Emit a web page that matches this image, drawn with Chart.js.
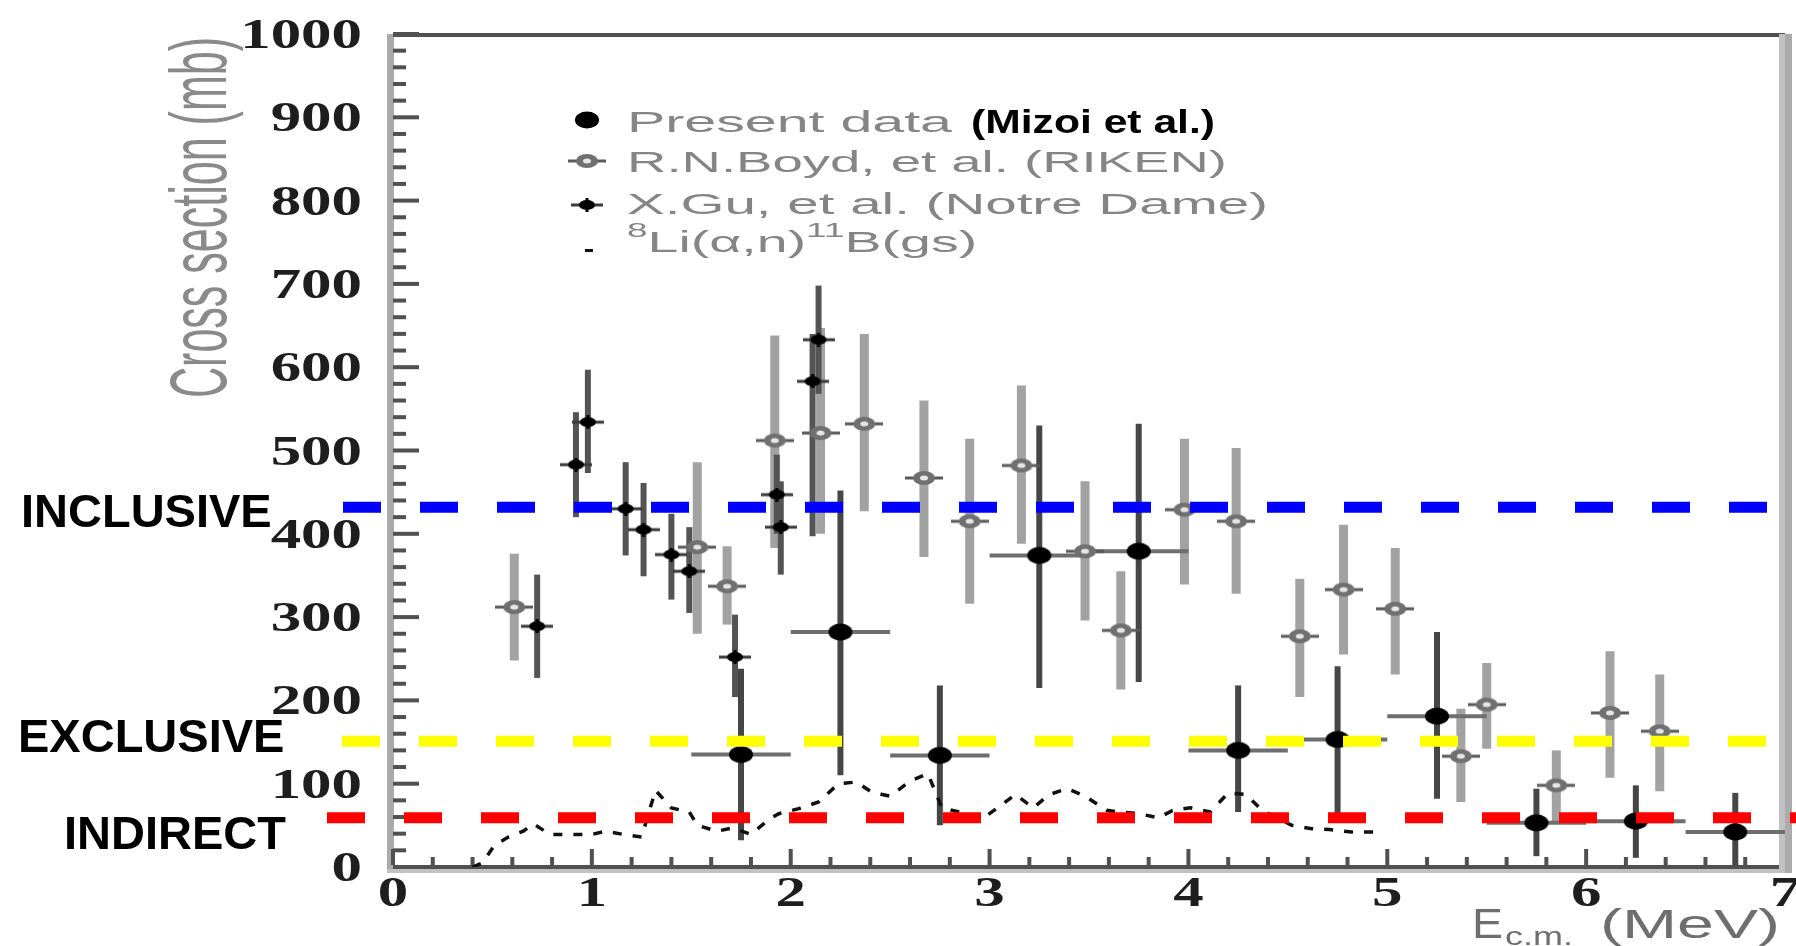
<!DOCTYPE html>
<html>
<head>
<meta charset="utf-8">
<title>8Li(a,n) cross section</title>
<script src="https://cdn.jsdelivr.net/npm/chart.js@4.4.1/dist/chart.umd.min.js"></script>
<style>
  html, body { margin: 0; padding: 0; background: #fff; }
  #wrap { width: 1796px; height: 946px; position: relative; }
</style>
</head>
<body>
<div id="wrap"><canvas id="xsec"></canvas></div>
<script>
// ----- values (E in MeV, sigma in mb) -----
const presE     = [1.75, 2.25, 2.75, 3.25, 3.75, 4.25, 4.75, 5.25, 5.75, 6.25, 6.75];
const presSigma = [135, 282, 134, 374, 379, 140, 153, 181, 53, 55, 42];
const presLo    = [32, 110, 50, 215, 222, 66, 61, 82, 13, 11, 2];
const presHi    = [238, 452, 218, 530, 532, 218, 241, 282, 94, 98, 89];
const presELo   = [1.5, 2.0, 2.5, 3.0, 3.5, 4.0, 4.5, 5.0, 5.5, 6.0, 6.5];
const presEHi   = [2.0, 2.5, 3.0, 3.5, 4.0, 4.5, 5.0, 5.5, 6.0, 6.5, 7.0];

const rikenE     = [0.61, 1.53, 1.68, 1.92, 2.15, 2.37, 2.67, 2.90, 3.16, 3.48, 3.66, 3.98, 4.24, 4.56, 4.78, 5.04, 5.37, 5.50, 5.85, 6.12, 6.37];
const rikenSigma = [312, 384, 337, 512, 521, 532, 467, 415, 482, 379, 284, 429, 415, 277, 333, 310, 133, 195, 98, 185, 163];
const rikenLo    = [248, 280, 291, 383, 400, 427, 372, 316, 388, 296, 213, 339, 328, 204, 255, 231, 78, 142, 53, 107, 91];
const rikenHi    = [376, 486, 385, 638, 647, 640, 560, 514, 578, 463, 355, 514, 503, 346, 411, 383, 190, 245, 140, 259, 231];

const ndE     = [0.725, 0.92, 0.98, 1.17, 1.26, 1.40, 1.49, 1.72, 1.93, 1.95, 2.11, 2.14];
const ndSigma = [289, 483, 534, 430, 405, 375, 355, 252, 447, 408, 583, 633];
const ndLo    = [227, 420, 473, 374, 349, 321, 305, 204, 400, 351, 397, 568];
const ndHi    = [351, 546, 597, 486, 461, 424, 408, 303, 495, 463, 640, 698];

const liE     = [0.40, 0.45, 0.51, 0.58, 0.655, 0.705, 0.79, 0.88, 1.0, 1.07,
                 1.16, 1.25, 1.32, 1.40, 1.49, 1.53, 1.63, 1.71, 1.80, 1.89,
                 1.94, 2.04, 2.14, 2.24, 2.33, 2.40, 2.46, 2.50, 2.60, 2.69,
                 2.76, 2.97, 3.04, 3.13, 3.22, 3.30, 3.39, 3.48, 3.59, 3.65,
                 3.75, 3.85, 3.92, 4.01, 4.11, 4.20, 4.29, 4.37, 4.52, 4.62,
                 4.71, 4.82, 4.93];
const liSigma = [0, 5, 26, 36, 43, 52, 39, 39, 39, 43,
                 39, 36, 92, 71, 66, 50, 43, 47, 39, 57,
                 64, 70, 78, 100, 102, 91, 87, 85, 103, 112,
                 71, 59, 71, 87, 71, 87, 94, 85, 68, 66,
                 64, 59, 68, 71, 66, 89, 87, 68, 50, 46,
                 45, 42, 42];

const xTickVals = [0, 1, 2, 3, 4, 5, 6, 7];
const yTickVals = [0, 100, 200, 300, 400, 500, 600, 700, 800, 900, 1000];

const levelNames  = ['INCLUSIVE', 'EXCLUSIVE', 'INDIRECT'];
const levelValues = [432, 151, 59];

// ----- marker images -----
function markerCanvas(w, h, draw) {
  const c = document.createElement('canvas');
  c.width = w; c.height = h;
  draw(c.getContext('2d'), w, h);
  return c;
}
const presMarker = markerCanvas(28, 20, (g, w, h) => {
  g.fillStyle = '#000';
  g.beginPath(); g.ellipse(w / 2, h / 2, 12, 8.5, 0, 0, 2 * Math.PI); g.fill();
});
const ndMarker = markerCanvas(32, 14, (g, w, h) => {
  g.fillStyle = '#3a3a3a'; g.fillRect(0, h / 2 - 1.5, w, 3);
  g.fillStyle = '#000';
  g.beginPath(); g.ellipse(w / 2, h / 2, 8, 5, 0, 0, 2 * Math.PI); g.fill();
  g.fillRect(w / 2 - 1.5, 0, 3, h);
});
const rikenMarker = markerCanvas(38, 16, (g, w, h) => {
  g.fillStyle = '#5a5a5a'; g.fillRect(0, h / 2 - 1.5, w, 3);
  g.fillStyle = '#707070';
  g.beginPath(); g.ellipse(w / 2, h / 2, 11, 7, 0, 0, 2 * Math.PI); g.fill();
  g.fillStyle = '#e6e6e6';
  g.beginPath(); g.ellipse(w / 2, h / 2, 4, 2.5, 0, 0, 2 * Math.PI); g.fill();
});

function pts(xs, ys) { return xs.map((v, i) => ({ x: v, y: ys[i] })); }

// ----- text helpers (the scanned plot is stretched sideways) -----
function fitText(ctx, text, x, y, width, font, color) {
  ctx.save();
  ctx.font = font;
  const w = ctx.measureText(text).width;
  ctx.translate(x, y);
  ctx.scale(width / w, 1);
  ctx.fillStyle = color;
  ctx.textAlign = 'left';
  ctx.textBaseline = 'alphabetic';
  ctx.fillText(text, 0, 0);
  ctx.restore();
}
function wideText(ctx, text, x, y, sx, align, font, color) {
  ctx.save();
  ctx.font = font;
  const w = ctx.measureText(text).width * sx;
  let left = x;
  if (align === 'right') left = x - w;
  if (align === 'center') left = x - w / 2;
  ctx.translate(left, y);
  ctx.scale(sx, 1);
  ctx.fillStyle = color;
  ctx.textAlign = 'left';
  ctx.textBaseline = 'alphabetic';
  ctx.fillText(text, 0, 0);
  ctx.restore();
  return w;
}

// ----- frame, ticks and error bars (under the markers) -----
function drawFrame(chart) {
  const { ctx, chartArea: a, scales: { x, y } } = chart;
  ctx.fillStyle = '#ababab';
  ctx.fillRect(a.left - 6, a.top, 7, a.bottom - a.top + 6);
  ctx.fillStyle = '#505050';
  ctx.fillRect(a.left, a.top - 1, a.right - a.left, 4);
  ctx.fillRect(a.left, a.bottom - 2, a.right - a.left, 4);
  ctx.fillStyle = '#c2c2c2';
  ctx.fillRect(a.left - 6, a.bottom + 2, a.right - a.left + 13, 4);

  ctx.fillStyle = '#505050';
  for (let v = 0; v <= 1000; v += 20) {
    const py = y.getPixelForValue(v);
    ctx.fillRect(a.left, py - 2, v % 100 === 0 ? 26 : 13, 4);
  }
  for (let i = 0; i <= 35; i++) {
    const px = x.getPixelForValue(i * 0.2);
    const len = i % 5 === 0 ? 16 : 8;
    ctx.fillRect(px - 2, a.bottom - 2 - len, 4, len);
  }
  ctx.fillStyle = '#c2c2c2';
  ctx.fillRect(a.right - 6, a.top, 6, a.bottom - a.top + 6);
  ctx.fillStyle = '#aaaaaa';
  ctx.fillRect(a.right, a.top, 7, a.bottom - a.top + 6);
}

function vbars(ctx, x, y, es, lo, hi, color, width) {
  ctx.strokeStyle = color;
  ctx.lineWidth = width;
  ctx.lineCap = 'butt';
  es.forEach((e, i) => {
    const px = x.getPixelForValue(e);
    ctx.beginPath();
    ctx.moveTo(px, y.getPixelForValue(lo[i]));
    ctx.lineTo(px, y.getPixelForValue(hi[i]));
    ctx.stroke();
  });
}
function hbars(ctx, x, y, eLo, eHi, sig, color, width) {
  ctx.strokeStyle = color;
  ctx.lineWidth = width;
  sig.forEach((s, i) => {
    const py = y.getPixelForValue(s);
    ctx.beginPath();
    ctx.moveTo(x.getPixelForValue(eLo[i]), py);
    ctx.lineTo(x.getPixelForValue(eHi[i]), py);
    ctx.stroke();
  });
}

const underPlugin = {
  id: 'under',
  beforeDatasetsDraw(chart) {
    const { ctx, scales: { x, y } } = chart;
    ctx.save();
    drawFrame(chart);
    vbars(ctx, x, y, rikenE, rikenLo, rikenHi, '#a2a2a2', 9);
    vbars(ctx, x, y, ndE, ndLo, ndHi, '#545454', 6);
    vbars(ctx, x, y, presE, presLo, presHi, '#464646', 6);
    hbars(ctx, x, y, presELo, presEHi, presSigma, '#6e6e6e', 4);
    ctx.restore();
  }
};

// ----- dashed reference levels and all the text -----
const levelColors = ['#0000ff', '#ffff00', '#ff0000'];
const levelStart = [-50, -51, -66];
const labelX = [21, 18, 64];
const labelDy = [20, 11, 31];

const overPlugin = {
  id: 'over',
  afterDatasetsDraw(chart) {
    const { ctx, chartArea: a, scales: { y } } = chart;
    ctx.save();
    ctx.lineWidth = 11;
    ctx.setLineDash([38, 39]);
    levelValues.forEach((v, i) => {
      const py = y.getPixelForValue(v);
      ctx.strokeStyle = levelColors[i];
      ctx.beginPath();
      ctx.moveTo(a.left + levelStart[i], py);
      ctx.lineTo(chart.width, py);
      ctx.stroke();
    });
    ctx.setLineDash([]);
    ctx.font = 'bold 47px "Liberation Sans", Arial, sans-serif';
    ctx.fillStyle = '#000';
    levelNames.forEach((name, i) => {
      ctx.fillText(name, labelX[i], y.getPixelForValue(levelValues[i]) + labelDy[i]);
    });
    ctx.restore();
  },
  afterDraw(chart) {
    const { ctx, chartArea: a, scales: { x, y } } = chart;
    const tickFont = 'bold 42px "Liberation Serif", "Times New Roman", serif';
    yTickVals.forEach(v => {
      wideText(ctx, String(v), a.left - 31, y.getPixelForValue(v) + 14, 1.45, 'right', tickFont, '#1e1e1e');
    });
    xTickVals.forEach(v => {
      wideText(ctx, String(v), x.getPixelForValue(v), a.bottom + 39, 1.45, 'center', tickFont, '#1e1e1e');
    });

    // y title, rotated and stretched across
    ctx.save();
    const yTitle = 'Cross section (mb)';
    ctx.font = '43px "Liberation Sans", Arial, sans-serif';
    const tw = ctx.measureText(yTitle).width;
    ctx.translate(226, 398);
    ctx.rotate(-Math.PI / 2);
    ctx.scale(361 / tw, 1.85);
    ctx.fillStyle = '#8a8a8a';
    ctx.fillText(yTitle, 0, 0);
    ctx.restore();

    // x title
    const grey = '#6e6e6e';
    fitText(ctx, 'E', 1472, 938, 31, '42px "Liberation Sans", Arial, sans-serif', grey);
    fitText(ctx, 'c.m.', 1505, 945, 68, '25px "Liberation Sans", Arial, sans-serif', grey);
    fitText(ctx, '(MeV)', 1600, 938, 180, '40px "Liberation Sans", Arial, sans-serif', grey);

    // legend
    const ds = chart.data.datasets;
    const legFont = '30px "Liberation Sans", Arial, sans-serif';
    const legColor = '#858585';
    const mx = 587, tx = 627;
    const rows = [
      { set: ds[0], base: 132, my: 120, width: 325 },
      { set: ds[2], base: 172, my: 161, width: 600 },
      { set: ds[1], base: 214, my: 205, width: 641 }
    ];
    rows.forEach(r => {
      const img = r.set.pointStyle;
      ctx.drawImage(img, mx - img.width / 2, r.my - img.height / 2);
      fitText(ctx, r.set.label, tx, r.base, r.width, legFont, legColor);
    });
    fitText(ctx, '(Mizoi et al.)', 971, 133, 244, 'bold 34px "Liberation Sans", Arial, sans-serif', '#000');

    ctx.fillStyle = '#111';
    ctx.fillRect(mx - 2, 249, 8, 3);
    const supFont = '20px "Liberation Sans", Arial, sans-serif';
    let cx = tx;
    cx += wideText(ctx, '8', cx, 237, 1.85, 'left', supFont, legColor);
    cx += wideText(ctx, 'Li(α,n)', cx, 252, 1.85, 'left', legFont, legColor);
    cx += wideText(ctx, '11', cx, 237, 1.85, 'left', supFont, legColor);
    wideText(ctx, 'B(gs)', cx, 252, 1.85, 'left', legFont, legColor);
  }
};

new Chart(document.getElementById('xsec'), {
  type: 'scatter',
  data: {
    datasets: [
      { label: 'Present data', data: pts(presE, presSigma), pointStyle: presMarker, pointRadius: 10 },
      { label: 'X.Gu, et al. (Notre Dame)', data: pts(ndE, ndSigma), pointStyle: ndMarker, pointRadius: 8 },
      { label: 'R.N.Boyd, et al. (RIKEN)', data: pts(rikenE, rikenSigma), pointStyle: rikenMarker, pointRadius: 9 },
      {
        label: '8Li(α,n)11B(gs)', data: pts(liE, liSigma), showLine: true,
        pointRadius: 0, borderColor: '#111', borderWidth: 3.5, borderDash: [9, 11], tension: 0
      }
    ]
  },
  options: {
    responsive: true,
    maintainAspectRatio: false,
    animation: false,
    devicePixelRatio: 1,
    events: [],
    layout: { padding: { left: 393, right: 11, top: 34, bottom: 79 } },
    scales: {
      x: { type: 'linear', min: 0, max: 7, display: false },
      y: { type: 'linear', min: 0, max: 1000, display: false }
    },
    plugins: { legend: { display: false }, tooltip: { enabled: false } }
  },
  plugins: [underPlugin, overPlugin]
});
</script>
</body>
</html>
